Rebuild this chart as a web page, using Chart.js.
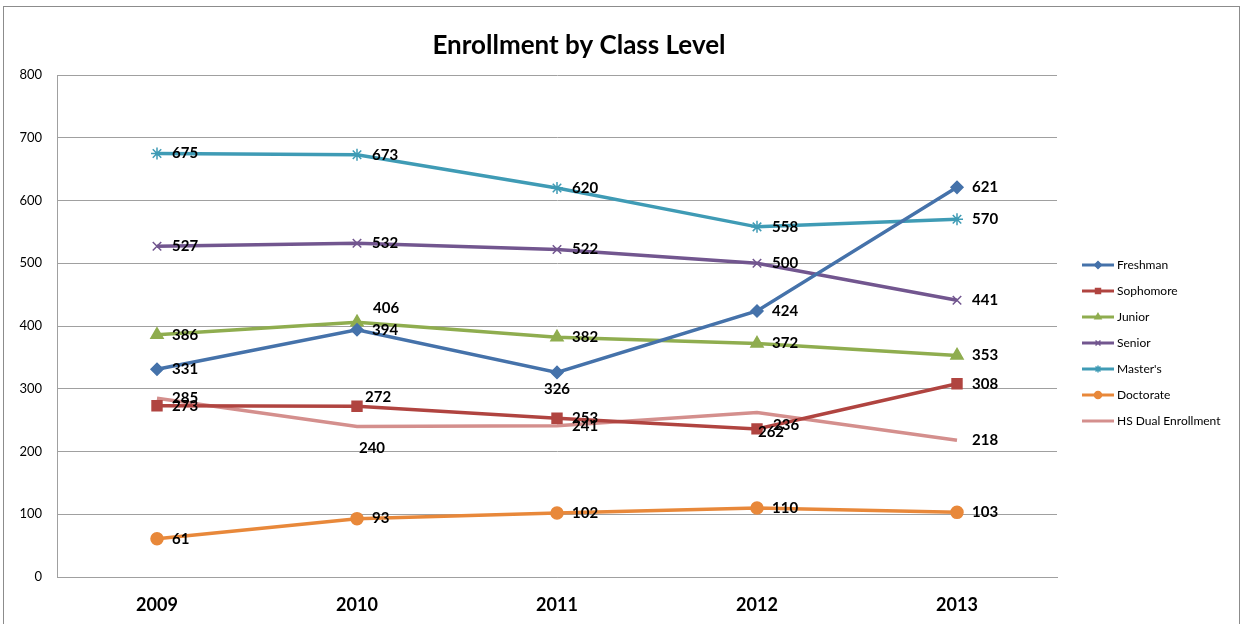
<!DOCTYPE html>
<html>
<head>
<meta charset="utf-8">
<script src="https://cdn.jsdelivr.net/npm/chart.js@4/dist/chart.umd.min.js"></script>
<style>
body{margin:0;background:#fff}
canvas{display:block}
</style>
</head>
<body>
<canvas id="chartEnroll" width="1243" height="624"></canvas>
<script>
const years = ['2009','2010','2011','2012','2013']
const seriesNames = ['Freshman','Sophomore','Junior','Senior',"Master's",'Doctorate','HS Dual Enrollment']
const freshman = [331,394,326,424,621]
const sophomore = [273,272,253,236,308]
const junior = [386,406,382,372,353]
const senior = [527,532,522,500,441]
const masters = [675,673,620,558,570]
const doctorate = [61,93,102,110,103]
const hsDual = [285,240,241,262,218]
const yTicks = [0,100,200,300,400,500,600,700,800]

const seriesValues=[freshman,sophomore,junior,senior,masters,doctorate,hsDual]
const colours=['#4572AA','#B04440','#8FAD4F','#72568F','#3F9BB5','#E8883A','#D48F8D']
const markers=['rectRot','rect','triangle','crossRot','star','circle',false]
const markerSize=[6,7,7,6,6,6,0]

// label nudges for points where Excel put the label somewhere else
const labelMoves={'2-1':[16,-14,'left'],'0-2':[0,17,'center'],'6-1':[15,22,'center'],'1-1':[8,-9,'left'],'6-3':[14,20,'center'],'1-3':[16,-4,'left']}

const frame={id:'frame',beforeDraw(c){
 const ctx=c.ctx
 ctx.save()
 ctx.strokeStyle='#8c8c8c';ctx.lineWidth=1
 ctx.strokeRect(3.5,6.5,1236,700)
 ctx.fillStyle='#000';ctx.font='bold 26px Lato';ctx.textAlign='center';ctx.textBaseline='middle'
 ctx.fillText('Enrollment by Class Level',579,46)
 ctx.restore()
}}

const valueLabels={id:'valueLabels',afterDatasetsDraw(c){
 const ctx=c.ctx
 ctx.save()
 ctx.font='bold 15px Lato';ctx.fillStyle='#000';ctx.textBaseline='middle'
 c.data.datasets.forEach((ds,d)=>{
  c.getDatasetMeta(d).data.forEach((pt,i)=>{
   let mv=labelMoves[d+'-'+i]||[15,0,'left']
   ctx.textAlign=mv[2]
   ctx.fillText(ds.data[i],pt.x+mv[0],pt.y+mv[1])
  })
 })
 ctx.restore()
}}

const sideLegend={id:'sideLegend',afterDraw(c){
 const ctx=c.ctx
 ctx.save()
 c.data.datasets.forEach((ds,d)=>{
  let y=265+26*d
  ctx.strokeStyle=ds.borderColor;ctx.lineWidth=3
  ctx.beginPath();ctx.moveTo(1082,y);ctx.lineTo(1114,y);ctx.stroke()
  if(ds.pointStyle){
   ctx.fillStyle=ds.backgroundColor;ctx.strokeStyle=ds.borderColor;ctx.lineWidth=1.5
   Chart.helpers.drawPoint(ctx,{pointStyle:ds.pointStyle,radius:3.5,rotation:0,borderWidth:1.5},1098,y)
  }
  ctx.fillStyle='#000';ctx.font='12px Lato';ctx.textAlign='left';ctx.textBaseline='middle'
  ctx.fillText(ds.label,1117,y)
 })
 ctx.restore()
}}

chartEnroll=new Chart(document.getElementById('chartEnroll'),{
 type:'line',
 data:{
  labels:years,
  datasets:seriesNames.map((n,k)=>({
   label:n,
   data:seriesValues[k],
   borderColor:colours[k],
   backgroundColor:colours[k],
   borderWidth:3.5,
   pointStyle:markers[k],
   pointRadius:markerSize[k],
   pointBorderWidth:1.5,
   tension:0
  }))
 },
 options:{
  responsive:false,
  animation:false,
  layout:{padding:{left:0,top:75,right:186,bottom:0}},
  plugins:{legend:{display:false},title:{display:false},tooltip:{enabled:false}},
  scales:{
   x:{
    offset:true,
    grid:{display:false,drawTicks:false},
    border:{display:true,color:'#a0a0a0'},
    ticks:{font:{family:'Lato',size:18,weight:'bold'},color:'#000',padding:17},
    afterFit:s=>{s.height=47}
   },
   y:{
    min:yTicks[0],max:yTicks[yTicks.length-1],
    afterBuildTicks:s=>{s.ticks=yTicks.map(v=>({value:v}))},
    grid:{color:'#a0a0a0',drawTicks:false},
    border:{display:true,color:'#a0a0a0'},
    ticks:{font:{family:'Lato',size:13},color:'#000',padding:15},
    afterFit:s=>{s.width=57}
   }
  }
 },
 plugins:[frame,valueLabels,sideLegend]
})
</script>
</body>
</html>
